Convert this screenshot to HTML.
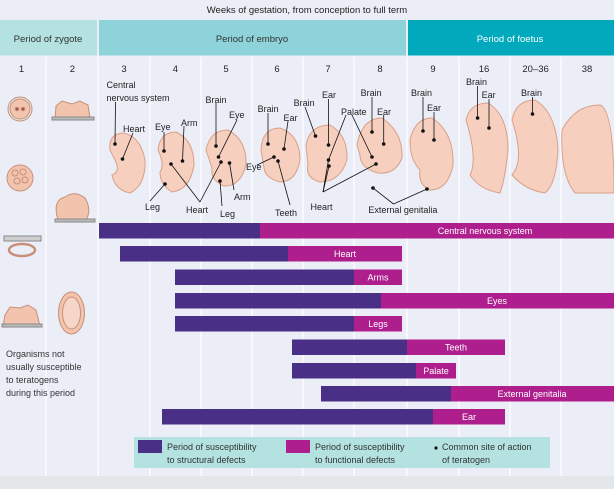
<!DOCTYPE html>
<html><head><meta charset="utf-8"><style>
body{margin:0;background:#eceef7}
svg{display:block;font-family:"Liberation Sans",sans-serif}
</style></head><body>
<svg width="614" height="489" viewBox="0 0 614 489" xmlns="http://www.w3.org/2000/svg">
<rect width="614" height="489" fill="#eceef7"/>
<rect y="476" width="614" height="13" fill="#e3e7ea"/>
<text x="307" y="13" font-size="9.5" text-anchor="middle" fill="#222">Weeks of gestation, from conception to full term</text>
<rect x="0" y="20" width="97" height="35.5" fill="#b3e2e0"/>
<rect x="99" y="20" width="307" height="35.5" fill="#8fd3da"/>
<rect x="408" y="20" width="206" height="35.5" fill="#00a9bc"/>
<text x="48" y="42" font-size="9.5" text-anchor="middle" fill="#333">Period of zygote</text>
<text x="252" y="42" font-size="9.5" text-anchor="middle" fill="#333">Period of embryo</text>
<text x="510" y="42" font-size="9.5" text-anchor="middle" fill="#fff">Period of foetus</text>
<g stroke="#fff" stroke-width="1.2">
<line x1="46" y1="57" x2="46" y2="476"/><line x1="98" y1="57" x2="98" y2="476"/>
<line x1="150" y1="57" x2="150" y2="476"/><line x1="201" y1="57" x2="201" y2="476"/>
<line x1="252" y1="57" x2="252" y2="476"/><line x1="303" y1="57" x2="303" y2="476"/>
<line x1="354" y1="57" x2="354" y2="476"/><line x1="407" y1="57" x2="407" y2="476"/>
<line x1="459" y1="57" x2="459" y2="476"/><line x1="510" y1="57" x2="510" y2="476"/>
<line x1="561" y1="57" x2="561" y2="476"/>
</g>
<g font-size="9.5" text-anchor="middle" fill="#222">
<text x="21.5" y="72">1</text><text x="72.4" y="72">2</text><text x="124" y="72">3</text>
<text x="175.4" y="72">4</text><text x="226" y="72">5</text><text x="277" y="72">6</text>
<text x="328" y="72">7</text><text x="380" y="72">8</text><text x="433" y="72">9</text>
<text x="484" y="72">16</text><text x="535.6" y="72">20–36</text><text x="587" y="72">38</text>
</g>
<!-- zygote icons -->
<g fill="#f2c3ad" stroke="#c98f78" stroke-width="1">
<circle cx="20" cy="109" r="12" fill="#dfeef0"/><circle cx="20" cy="109" r="10"/>
<circle cx="17" cy="109" r="1.8" fill="#9a5a4a"/><circle cx="23" cy="109" r="1.8" fill="#9a5a4a"/>
<circle cx="20" cy="178" r="13"/>
<circle cx="15" cy="173" r="3" fill="none"/><circle cx="23" cy="172" r="3" fill="none"/><circle cx="17" cy="181" r="3" fill="none"/><circle cx="25" cy="180" r="3" fill="none"/>
<path d="M55 118 L90 118 L88 105 L80 101 L72 104 L62 101 L56 106 Z"/>
<rect x="52" y="117" width="42" height="3" fill="#bcbcbc" stroke="#888"/>
<path d="M58 220 Q52 200 65 197 Q75 190 85 198 Q92 210 86 220 Z"/>
<rect x="55" y="219" width="40" height="3" fill="#bcbcbc" stroke="#888"/>
<rect x="4" y="236" width="37" height="5" fill="#cfcfcf" stroke="#888"/>
<ellipse cx="22" cy="250" rx="13" ry="6" fill="none" stroke-width="2.5" stroke="#c98f78"/>
<path d="M3 326 L40 326 L36 310 L28 305 L20 308 L10 307 L5 315 Z"/>
<rect x="2" y="324" width="40" height="3" fill="#bcbcbc" stroke="#888"/>
<ellipse cx="71.5" cy="313" rx="13" ry="21"/>
<ellipse cx="71.5" cy="313" rx="9" ry="16" fill="#f6d6c8"/>
</g>
<g font-size="9" fill="#333">
<text x="6" y="357">Organisms not</text><text x="6" y="370">usually susceptible</text>
<text x="6" y="383">to teratogens</text><text x="6" y="396">during this period</text>
</g>
<!-- embryos -->
<g fill="#f6cfbf" stroke="#d9a08a" stroke-width="1">
<path d="M110 150 Q108 135 122 133 Q140 135 145 160 Q146 185 130 193 Q115 190 112 175 Q120 172 116 162 Z"/>
<path d="M158 150 Q160 132 176 132 Q194 140 194 165 Q190 190 172 192 Q160 185 160 172 Q165 165 158 150 Z"/>
<path d="M206 150 Q210 130 228 130 Q247 140 246 165 Q240 187 224 186 Q210 180 212 168 Z"/>
<path d="M261 150 Q262 128 280 128 Q300 135 300 160 Q296 182 280 182 Q265 178 264 168 Z"/>
<path d="M306 145 Q310 125 330 125 Q348 135 347 160 Q340 182 320 182 Q305 178 308 165 Z"/>
<path d="M357 145 Q362 118 382 118 Q403 132 402 158 Q395 175 378 173 Q360 168 360 155 Z"/>
<path d="M410 140 Q415 118 432 118 Q454 132 453 165 Q448 190 430 190 Q418 185 420 170 Q410 160 410 140 Z"/>
<path d="M466 120 Q470 103 488 103 Q508 115 508 150 Q505 180 500 193 Q480 190 470 175 Q478 160 466 120 Z"/>
<path d="M512 120 Q516 100 535 100 Q556 112 558 150 Q556 185 545 193 Q525 190 512 175 Q525 160 512 120 Z"/>
<path d="M562 130 Q575 105 600 105 Q614 110 614 193 L575 193 Q560 175 562 130 Z"/>
</g>
<!-- label lines -->
<g stroke="#111" stroke-width="0.8" fill="none">
<line x1="115.5" y1="102" x2="115" y2="144"/><line x1="133" y1="133" x2="122.5" y2="159"/>
<line x1="164" y1="132" x2="164" y2="151"/><line x1="184" y1="126" x2="182.5" y2="161"/>
<line x1="216" y1="103" x2="216" y2="146"/><line x1="237" y1="120" x2="218.5" y2="157"/>
<line x1="150" y1="201" x2="165" y2="184"/><line x1="200" y1="202" x2="171" y2="164"/><line x1="200" y1="202" x2="221" y2="162"/>
<line x1="222" y1="206" x2="220" y2="181"/><line x1="234" y1="190" x2="229.5" y2="163"/>
<line x1="268" y1="113" x2="268" y2="144"/><line x1="288" y1="121" x2="284" y2="149"/>
<line x1="257" y1="165" x2="274" y2="157"/><line x1="290" y1="205" x2="278" y2="161"/>
<line x1="305" y1="107" x2="315.5" y2="136"/><line x1="328.5" y1="99" x2="328.5" y2="145"/>
<line x1="323" y1="192" x2="328.5" y2="160"/><line x1="323" y1="192" x2="329" y2="166"/><line x1="323" y1="192" x2="376" y2="164"/>
<line x1="346" y1="115" x2="328.5" y2="160"/><line x1="352" y1="115" x2="372" y2="157"/>
<line x1="372" y1="97" x2="372" y2="132"/><line x1="383.7" y1="115" x2="383.7" y2="144"/>
<line x1="393.5" y1="204" x2="373" y2="188"/><line x1="393.5" y1="204" x2="427" y2="189"/>
<line x1="423" y1="97" x2="423" y2="131"/><line x1="434" y1="112" x2="434" y2="140"/>
<line x1="477.6" y1="86" x2="477.6" y2="118"/><line x1="489" y1="99" x2="489" y2="128"/>
<line x1="532.5" y1="97" x2="532.5" y2="114"/>
</g>
<g fill="#111">
<circle cx="115" cy="144" r="1.8"/><circle cx="122.5" cy="159" r="1.8"/><circle cx="164" cy="151" r="1.8"/>
<circle cx="182.5" cy="161" r="1.8"/><circle cx="216" cy="146" r="1.8"/><circle cx="218.5" cy="157" r="1.8"/>
<circle cx="221" cy="162" r="1.8"/><circle cx="229.5" cy="163" r="1.8"/><circle cx="220" cy="181" r="1.8"/>
<circle cx="171" cy="164" r="1.8"/><circle cx="165" cy="184" r="1.8"/><circle cx="268" cy="144" r="1.8"/>
<circle cx="284" cy="149" r="1.8"/><circle cx="274" cy="157" r="1.8"/><circle cx="278" cy="161" r="1.8"/>
<circle cx="315.5" cy="136" r="1.8"/><circle cx="328.5" cy="145" r="1.8"/><circle cx="328.5" cy="160" r="1.8"/>
<circle cx="329" cy="166" r="1.8"/><circle cx="376" cy="164" r="1.8"/><circle cx="372" cy="157" r="1.8"/>
<circle cx="372" cy="132" r="1.8"/><circle cx="383.7" cy="144" r="1.8"/><circle cx="373" cy="188" r="1.8"/>
<circle cx="427" cy="189" r="1.8"/><circle cx="423" cy="131" r="1.8"/><circle cx="434" cy="140" r="1.8"/>
<circle cx="477.6" cy="118" r="1.8"/><circle cx="489" cy="128" r="1.8"/><circle cx="532.5" cy="114" r="1.8"/>
</g>
<g font-size="9" fill="#222">
<text x="106.5" y="88">Central</text><text x="106.5" y="101">nervous system</text>
<text x="123" y="132">Heart</text><text x="155" y="130">Eye</text><text x="181" y="126">Arm</text>
<text x="205.5" y="103">Brain</text><text x="229" y="118">Eye</text>
<text x="145" y="210">Leg</text><text x="186" y="213">Heart</text><text x="220" y="217">Leg</text><text x="234" y="200">Arm</text>
<text x="257.6" y="112">Brain</text><text x="283.5" y="121">Ear</text><text x="246" y="170">Eye</text><text x="275" y="216">Teeth</text>
<text x="293.6" y="106">Brain</text><text x="322" y="98">Ear</text><text x="310.5" y="210">Heart</text>
<text x="341" y="115">Palate</text><text x="360.6" y="96">Brain</text><text x="377" y="115">Ear</text>
<text x="368.4" y="213">External genitalia</text>
<text x="411" y="96">Brain</text><text x="427" y="111">Ear</text>
<text x="466" y="85">Brain</text><text x="481.6" y="98">Ear</text><text x="521" y="96">Brain</text>
</g>
<!-- bars -->
<g>
<rect x="99" y="223" width="161" height="15.5" fill="#4a2f87"/><rect x="260" y="223" width="354" height="15.5" fill="#ae1f8d"/>
<rect x="120" y="246" width="168" height="15.5" fill="#4a2f87"/><rect x="288" y="246" width="114" height="15.5" fill="#ae1f8d"/>
<rect x="175" y="269.5" width="179" height="15.5" fill="#4a2f87"/><rect x="354" y="269.5" width="48" height="15.5" fill="#ae1f8d"/>
<rect x="175" y="293" width="206" height="15.5" fill="#4a2f87"/><rect x="381" y="293" width="233" height="15.5" fill="#ae1f8d"/>
<rect x="175" y="316" width="179" height="15.5" fill="#4a2f87"/><rect x="354" y="316" width="48" height="15.5" fill="#ae1f8d"/>
<rect x="292" y="339.5" width="115" height="15.5" fill="#4a2f87"/><rect x="407" y="339.5" width="98" height="15.5" fill="#ae1f8d"/>
<rect x="292" y="363" width="124" height="15.5" fill="#4a2f87"/><rect x="416" y="363" width="40" height="15.5" fill="#ae1f8d"/>
<rect x="321" y="386" width="130" height="15.5" fill="#4a2f87"/><rect x="451" y="386" width="163" height="15.5" fill="#ae1f8d"/>
<rect x="162" y="409" width="271" height="15.5" fill="#4a2f87"/><rect x="433" y="409" width="72" height="15.5" fill="#ae1f8d"/>
</g>
<g font-size="9" fill="#fff" text-anchor="middle">
<text x="485" y="234">Central nervous system</text><text x="345" y="257">Heart</text>
<text x="378" y="280.5">Arms</text><text x="497" y="304">Eyes</text><text x="378" y="327">Legs</text>
<text x="456" y="350.5">Teeth</text><text x="436" y="374">Palate</text>
<text x="532" y="397">External genitalia</text><text x="469" y="420">Ear</text>
</g>
<!-- legend -->
<rect x="134" y="437" width="416" height="31" fill="#b3e2e0"/>
<rect x="138" y="440" width="24" height="13" fill="#4a2f87"/>
<rect x="286" y="440" width="24" height="13" fill="#ae1f8d"/>
<circle cx="436" cy="448" r="1.6" fill="#111"/>
<g font-size="9" fill="#333">
<text x="167" y="450">Period of susceptibility</text><text x="167" y="463">to structural defects</text>
<text x="315" y="450">Period of susceptibility</text><text x="315" y="463">to functional defects</text>
<text x="442" y="450">Common site of action</text><text x="442" y="463">of teratogen</text>
</g>
</svg>
</body></html>
